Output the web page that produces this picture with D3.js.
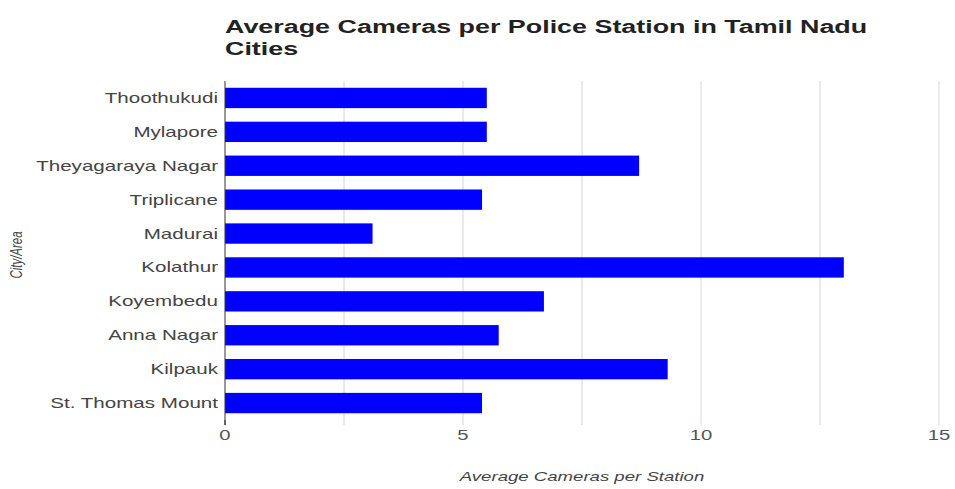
<!DOCTYPE html>
<html><head><meta charset="utf-8">
<script src="https://cdn.jsdelivr.net/npm/d3@7"></script>
<style>body{margin:0;background:#fff}svg{display:block;font-family:"Liberation Sans",Arial,sans-serif}</style>
</head><body>
<svg id="c" width="955" height="489"></svg>
<script>
const cities = ["Thoothukudi","Mylapore","Theyagaraya Nagar","Triplicane","Madurai","Kolathur","Koyembedu","Anna Nagar","Kilpauk","St. Thomas Mount"];
const avgCameras = [5.5,5.5,8.7,5.4,3.1,13,6.7,5.75,9.3,5.4];
const xTicks = [0,5,10,15];
const gridTicks = [0,2.5,5,7.5,10,12.5,15];

const SX = 1.45; // horizontal glyph stretch seen in the reference
const svg = d3.select("#c");
const m = {l:225, r:16, t:81, b:69};
const W = 955, H = 489;
const x = d3.scaleLinear().domain([0,15]).range([m.l, W - m.r]);
const y = d3.scaleBand().domain(cities).range([m.t, H - m.b]).paddingInner(0.4).paddingOuter(0.2);

svg.append("g").selectAll("line").data(gridTicks.slice(1)).join("line")
  .attr("x1",d=>x(d)).attr("x2",d=>x(d)).attr("y1",m.t).attr("y2",H-m.b)
  .attr("stroke","#d4d4d4").attr("stroke-width",1);
svg.append("g").selectAll("line").data(gridTicks).join("line")
  .attr("x1",d=>x(d)).attr("x2",d=>x(d)).attr("y1",H-m.b).attr("y2",H-m.b+5)
  .attr("stroke",d=>d===0?"#333":"#d4d4d4");

svg.append("g").selectAll("rect").data(cities).join("rect")
  .attr("x",x(0)).attr("y",d=>y(d)).attr("height",y.bandwidth())
  .attr("width",(d,i)=>x(avgCameras[i])-x(0)).attr("fill","#0000ff");

svg.append("line").attr("x1",x(0)).attr("x2",x(0)).attr("y1",m.t).attr("y2",H-m.b+5).attr("stroke","#333");

svg.append("g").selectAll("text").data(cities).join("text")
  .attr("transform",d=>`translate(${m.l-7},${y(d)+y.bandwidth()/2}) scale(${SX},1)`).attr("dy","0.35em")
  .attr("text-anchor","end").attr("font-size",14.2).attr("fill","#444").text(d=>d);

svg.append("g").selectAll("text").data(xTicks).join("text")
  .attr("transform",d=>`translate(${x(d)},${H-m.b+15}) scale(${SX},1)`).attr("dy","0.35em")
  .attr("text-anchor","middle").attr("font-size",14).attr("fill","#555").text(d=>d);

svg.append("text").attr("transform",`translate(${(x(0)+x(15))/2},481) scale(1.55,1)`).attr("text-anchor","middle")
  .attr("font-size",12).attr("font-style","italic").attr("fill","#444").text("Average Cameras per Station");
svg.append("text").attr("transform",`translate(22,255) rotate(-90) scale(1,${SX})`).attr("text-anchor","middle")
  .attr("font-size",11.5).attr("font-style","italic").attr("fill","#444").text("City/Area");

const t = svg.append("text").attr("transform",`translate(225,0) scale(1.43,1)`)
  .attr("font-size",18.8).attr("font-weight","bold").attr("fill","#222");
t.append("tspan").attr("x",0).attr("y",33.5).text("Average Cameras per Police Station in Tamil Nadu");
t.append("tspan").attr("x",0).attr("y",55).text("Cities");
</script>
</body></html>
